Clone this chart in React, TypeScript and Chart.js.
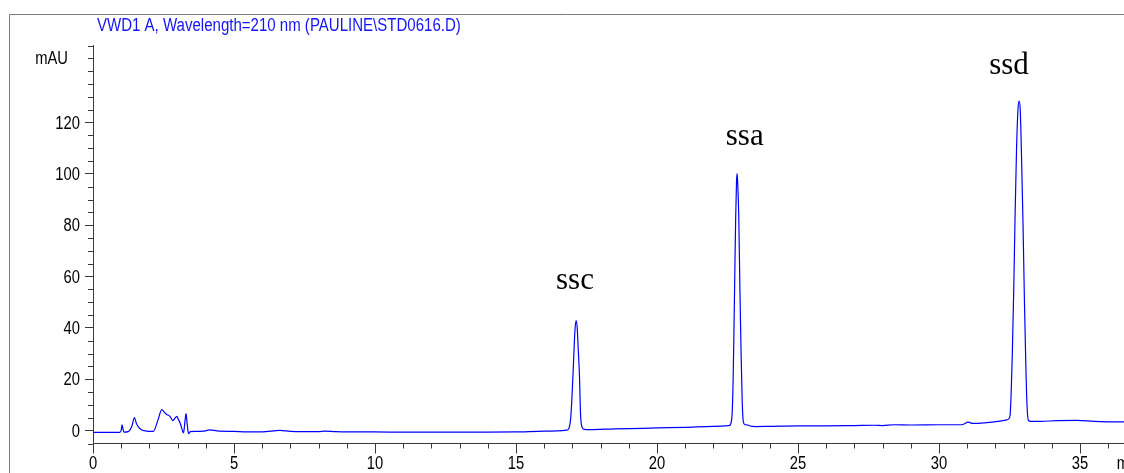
import { useEffect, useRef } from 'react';
import { Chart, registerables } from 'chart.js';

Chart.register(...registerables);

// ---- data (retention time in min, signal in mAU) ----
const times = [
  0.0, 0.95, 1.0, 1.03, 1.07, 1.1, 1.25, 1.38, 1.47, 1.54, 1.61, 1.72, 1.85, 2.14,
  2.3, 2.44, 2.52, 2.62, 2.68, 2.74, 2.83, 2.9, 2.97, 3.03, 3.09, 3.15, 3.21, 3.26,
  3.3, 3.34, 3.39, 3.45, 3.6, 3.9, 4.15, 4.4, 5.0, 5.5, 6.0, 6.63, 7.0, 7.5, 8.0,
  8.2, 8.6, 9.0, 10.0, 11.0, 12.0, 13.0, 14.0, 15.0, 16.0, 16.8,
  16.88, 16.94, 16.98, 17.02, 17.06, 17.09, 17.13, 17.17, 17.21, 17.25, 17.29, 17.34, 17.42,
  17.6, 18.5, 19.5, 20.0, 21.0, 22.0, 22.55,
  22.62, 22.67, 22.7, 22.73, 22.76, 22.79, 22.82, 22.84, 22.86, 22.9, 22.94, 22.98, 23.02, 23.06,
  23.12, 23.22, 23.3, 23.5, 24.0, 25.0, 26.0, 27.0, 27.7, 28.0, 28.4, 29.0, 30.0, 30.8,
  31.04, 31.2, 31.6, 32.16, 32.4,
  32.47, 32.52, 32.56, 32.6, 32.65, 32.7, 32.75, 32.8, 32.84, 32.88, 32.93, 32.98, 33.03, 33.08,
  33.12, 33.17, 33.25, 33.6, 34.17, 34.9, 35.5, 36.5, 37.0,
];
const signal = [
  -0.7, -0.7, 0.2, 2.3, 0.3, -0.6, -0.4, 1.8, 5.1, 2.8, 1.5, 0.4, -0.1, -0.3,
  4.0, 8.2, 7.3, 6.2, 6.0, 5.4, 3.9, 4.8, 5.6, 4.3, 3.0, 0.8, -0.9, 3.5,
  6.6, 2.5, -1.2, -0.4, -0.3, -0.2, 0.3, -0.1, -0.3, -0.5, -0.5, 0.1, -0.3, -0.4, -0.4,
  -0.2, -0.4, -0.5, -0.5, -0.6, -0.6, -0.6, -0.6, -0.5, -0.2, 0.2,
  1.0, 5.0, 12.0, 21.5, 32.0, 39.0, 42.9, 40.0, 31.0, 21.5, 6.0, 1.5, 0.5,
  0.4, 0.7, 0.9, 1.05, 1.3, 1.7, 1.95,
  2.8, 8.0, 20.0, 40.0, 62.0, 83.0, 97.0, 100.1, 97.0, 83.0, 55.0, 31.0, 12.0, 3.5,
  2.3, 2.2, 1.8, 1.6, 1.7, 1.9, 1.9, 2.0, 2.1, 2.0, 2.3, 2.2, 2.3, 2.3,
  3.3, 2.8, 3.0, 3.7, 4.2,
  4.6, 6.0, 15.0, 30.0, 55.0, 85.0, 110.0, 125.0, 128.3, 125.0, 105.0, 80.0, 50.0, 25.0,
  10.0, 4.0, 3.6, 3.6, 3.9, 4.0, 3.6, 3.4, 3.4,
];

const peakNames = ['ssc', 'ssa', 'ssd'];
const peakLabelTimes = [17.09, 23.11, 32.48];
const peakLabelValues = [55.2, 111.4, 139.0];

const xMin = 0;
const xMax = 36.56;
const xMajorStep = 5;
const xMinorStep = 1;
const yMin = -5;
const yMax = 150;
const yMajorStep = 20;
const yMinorStep = 5;
const yLabelMax = 120;
const yUnitValue = 145;
const xUnitValue = 36.3;

const titleText = 'VWD1 A, Wavelength=210 nm (PAULINE\\STD0616.D)';
const yUnit = 'mAU';
const xUnit = 'min';

// ---- styles ----
const SANS = '"Liberation Sans", Arial, sans-serif';
const SERIF = '"Liberation Serif", "Times New Roman", serif';
const AXIS = '#3a3a3a';
const LINE = '#0000ff';
const TITLE_COLOR = '#1414f5';
const FRAME = '#7a7a7a';
const NARROW = 0.82;

const W = 1116;
const H = 465;

function narrowText(ctx: any, text: string, x: number, y: number, sx: number) {
  ctx.save();
  ctx.translate(x, y);
  ctx.scale(sx, 1);
  ctx.fillText(text, 0, 0);
  ctx.restore();
}

const decorPlugin = {
  id: 'decor',
  beforeDraw(chart: any) {
    const ctx = chart.ctx;
    ctx.save();
    ctx.strokeStyle = FRAME;
    ctx.lineWidth = 1;
    ctx.beginPath();
    ctx.moveTo(1.5, chart.height);
    ctx.lineTo(1.5, 6.5);
    ctx.lineTo(chart.width, 6.5);
    ctx.stroke();
    ctx.restore();
  },
  afterDraw(chart: any) {
    const { ctx, chartArea } = chart;
    const x = chart.scales.x;
    const y = chart.scales.y;
    ctx.save();
    // minor tick marks
    ctx.strokeStyle = AXIS;
    ctx.lineWidth = 1;
    ctx.beginPath();
    for (let t = xMin; t <= xMax; t += xMinorStep) {
      if (t % xMajorStep === 0) continue;
      const px = Math.round(x.getPixelForValue(t)) + 0.5;
      ctx.moveTo(px, chartArea.bottom);
      ctx.lineTo(px, chartArea.bottom + 5);
    }
    for (let v = yMin; v <= yMax; v += yMinorStep) {
      if (v % yMajorStep === 0 && v <= yLabelMax) continue;
      const py = Math.round(y.getPixelForValue(v)) + 0.5;
      ctx.moveTo(chartArea.left - 5, py);
      ctx.lineTo(chartArea.left, py);
    }
    ctx.stroke();

    // tick labels (condensed, from the scales' own ticks)
    ctx.font = `18px ${SANS}`;
    ctx.fillStyle = '#000';
    ctx.textAlign = 'center';
    ctx.textBaseline = 'top';
    x.ticks.forEach((tk: any) => {
      if (tk.label === '' || tk.label == null) return;
      narrowText(ctx, String(tk.label), x.getPixelForValue(tk.value), chartArea.bottom + 12, NARROW);
    });
    ctx.textAlign = 'right';
    ctx.textBaseline = 'middle';
    y.ticks.forEach((tk: any) => {
      if (tk.label === '' || tk.label == null) return;
      narrowText(ctx, String(tk.label), chartArea.left - 13, y.getPixelForValue(tk.value) + 1, NARROW);
    });
    narrowText(ctx, yUnit, chartArea.left - 25, y.getPixelForValue(yUnitValue) + 1, NARROW);
    ctx.textAlign = 'left';
    ctx.textBaseline = 'top';
    narrowText(ctx, xUnit, x.getPixelForValue(xUnitValue), chartArea.bottom + 12, NARROW);

    // title
    ctx.fillStyle = TITLE_COLOR;
    ctx.textAlign = 'left';
    ctx.textBaseline = 'alphabetic';
    narrowText(ctx, titleText, 89, 23, 0.835);

    // peak labels
    ctx.fillStyle = '#000';
    ctx.font = `31px ${SERIF}`;
    ctx.textAlign = 'center';
    ctx.textBaseline = 'alphabetic';
    peakNames.forEach((n, i) => {
      ctx.fillText(n, x.getPixelForValue(peakLabelTimes[i]), y.getPixelForValue(peakLabelValues[i]));
    });
    ctx.restore();
  },
};

export default function App() {
  const ref = useRef<HTMLCanvasElement | null>(null);
  useEffect(() => {
    if (!ref.current) return;
    const points = times.map((t, i) => ({ x: t, y: signal[i] }));
    const chart = new Chart(ref.current, {
      type: 'line',
      data: {
        datasets: [
          {
            data: points,
            borderColor: LINE,
            borderWidth: 1.2,
            pointRadius: 0,
            cubicInterpolationMode: 'monotone',
            fill: false,
          },
        ],
      },
      options: {
        animation: false,
        responsive: false,
        events: [],
        layout: { padding: { left: 0, top: 37.5, right: 0, bottom: 0 } },
        plugins: { legend: { display: false }, tooltip: { enabled: false }, title: { display: false } },
        scales: {
          x: {
            type: 'linear',
            min: xMin,
            max: xMax,
            afterFit: (s: any) => { s.height = 29.5; },
            ticks: {
              stepSize: xMajorStep,
              includeBounds: false,
              display: false,
              callback: (v: any) => String(v),
            },
            grid: { drawOnChartArea: false, drawTicks: true, tickLength: 10, color: AXIS },
            border: { display: true, color: AXIS },
          },
          y: {
            type: 'linear',
            min: yMin,
            max: yMax,
            afterFit: (s: any) => { s.width = 85; },
            ticks: {
              stepSize: yMajorStep,
              includeBounds: false,
              display: false,
              callback: (v: any) => (Number(v) > yLabelMax ? '' : String(v)),
            },
            grid: {
              drawOnChartArea: false,
              drawTicks: true,
              tickLength: 8,
              color: AXIS,
              tickColor: (c: any) => (c.tick && c.tick.value > yLabelMax ? 'rgba(0,0,0,0)' : AXIS),
            },
            border: { display: true, color: AXIS },
          },
        },
      },
      plugins: [decorPlugin],
    });
    return () => chart.destroy();
  }, []);
  return (
    <div style={{ position: 'fixed', left: 8, top: 8, width: W, height: H, overflow: 'hidden', background: '#fff' }}>
      <canvas ref={ref} width={W} height={H} style={{ display: 'block', width: W, height: H }} />
    </div>
  );
}
